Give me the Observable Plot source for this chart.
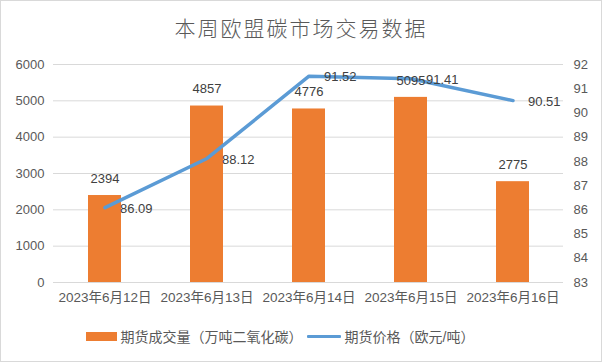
<!DOCTYPE html>
<html>
<head>
<meta charset="utf-8">
<script src="https://cdn.jsdelivr.net/npm/d3@7"></script>
<script src="https://cdn.jsdelivr.net/npm/@observablehq/plot@0.6"></script>
<style>
  html, body { margin: 0; padding: 0; background: #fff; }
  #wrap { position: relative; width: 602px; height: 362px; box-sizing: border-box; border: 1px solid #d9d9d9; background: #fff; overflow: hidden;
          font-family: "Liberation Sans", "Noto Sans CJK SC", sans-serif; }
  #title { height: 49px; line-height: 52px; text-align: center; font-family: "Noto Sans CJK SC", sans-serif; font-weight: 300; font-size: 21px; letter-spacing: 2px; color: #595959; }
  #chart svg { display: block; }
  #legend { position: absolute; left: 0; top: 325px; width: 600px; box-sizing: border-box; padding-right: 42px; display: flex; justify-content: center; align-items: center; font-size: 14px; color: #595959; }
  .item { display: flex; align-items: center; margin: 0 2px; }
  .swatch { width: 31px; height: 9px; background: #ED7D31; margin-right: 4px; }
  .lineswatch { width: 34px; height: 3px; background: #5B9BD5; margin-right: 4px; border-radius: 1px; }
</style>
</head>
<body>
<div id="wrap">
  <div id="title">本周欧盟碳市场交易数据</div>
  <div id="chart"></div>
  <div id="legend"></div>
</div>
<script>
const dates = ["2023年6月12日", "2023年6月13日", "2023年6月14日", "2023年6月15日", "2023年6月16日"];
const volume = [2394, 4857, 4776, 5095, 2775];
const price = [86.09, 88.12, 91.52, 91.41, 90.51];
const leftTicks = [0, 1000, 2000, 3000, 4000, 5000, 6000];
const rightTicks = [83, 84, 85, 86, 87, 88, 89, 90, 91, 92];
const seriesNames = ["期货成交量（万吨二氧化碳）", "期货价格（欧元/吨）"];

const yMax = 6000, pMin = 83, pMax = 92;
const toLeft = p => (p - pMin) / (pMax - pMin) * yMax;
const fromLeft = v => v / yMax * (pMax - pMin) + pMin;

const data = dates.map((d, i) => ({date: d, volume: volume[i], price: price[i]}));

const chart = Plot.plot({
  width: 600,
  height: 260,
  marginLeft: 52,
  marginRight: 38,
  marginTop: 14,
  marginBottom: 28,
  style: {fontFamily: '"Liberation Sans", "Noto Sans CJK SC", sans-serif', fontSize: "13px", background: "white"},
  x: {type: "band", domain: dates, paddingInner: 0.68, paddingOuter: 0.34},
  y: {domain: [0, yMax]},
  marks: [
    Plot.gridY(leftTicks, {stroke: "#d9d9d9", strokeOpacity: 1}),
    Plot.barY(data, {x: "date", y: "volume", fill: "#ED7D31"}),
    Plot.ruleY([0], {stroke: "#d9d9d9", strokeWidth: 1}),
    Plot.line(data, {x: "date", y: d => toLeft(d.price), stroke: "#5B9BD5", strokeWidth: 3.5, strokeLinejoin: "round", strokeLinecap: "round"}),
    Plot.text(data, {x: "date", y: "volume", text: d => String(d.volume), dy: -17, fill: "#404040", fontSize: 13}),
    Plot.text(data, {x: "date", y: d => toLeft(d.price), text: d => d.price.toFixed(2), dx: 15, dy: 1, textAnchor: "start", fill: "#404040", fontSize: 13}),
    Plot.axisY(leftTicks, {anchor: "left", tickSize: 0, tickPadding: 9, label: null, tickFormat: d => String(d), color: "#595959", fontSize: 13}),
    Plot.axisY(rightTicks.map(toLeft), {anchor: "right", tickSize: 0, tickPadding: 10, label: null, tickFormat: v => String(Math.round(fromLeft(v))), color: "#595959", fontSize: 13}),
    Plot.axisX({tickSize: 0, tickPadding: 10, label: null, color: "#595959", fontSize: 13.5})
  ]
});
document.getElementById("chart").appendChild(chart);

const legend = document.getElementById("legend");
legend.innerHTML = `<div class="item"><div class="swatch"></div><span>${seriesNames[0]}</span></div>` +
  `<div class="item"><div class="lineswatch"></div><span>${seriesNames[1]}</span></div>`;
</script>
</body>
</html>
